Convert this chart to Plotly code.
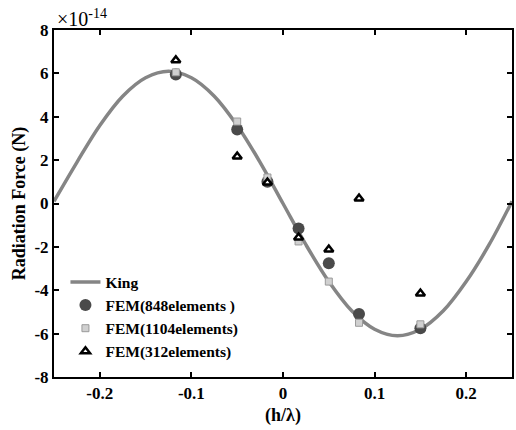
import plotly.graph_objects as go

# King theoretical curve (units of 1e-14 N)
king_x = [-0.25, -0.225, -0.2, -0.175, -0.15, -0.125, -0.1, -0.075, -0.05, -0.025,
          0.0, 0.025, 0.05, 0.075, 0.1, 0.125, 0.15, 0.175, 0.2, 0.225, 0.25]
king_y = [0.1, 1.9, 3.6, 4.95, 5.8, 6.1, 5.8, 4.95, 3.6, 1.9,
          0.0, -1.9, -3.6, -4.95, -5.8, -6.1, -5.8, -4.95, -3.6, -1.9, 0.1]

fem_x = [-0.117, -0.05, -0.017, 0.017, 0.05, 0.083, 0.15]
fem848_y = [5.95, 3.41, 1.0, -1.15, -2.75, -5.1, -5.75]
fem1104_y = [6.05, 3.78, 1.2, -1.75, -3.6, -5.5, -5.57]
fem312_y = [6.6, 2.17, 0.97, -1.57, -2.12, 0.23, -4.15]

x_ticks = [-0.2, -0.1, 0, 0.1, 0.2]
x_ticklabels = ["-0.2", "-0.1", "0", "0.1", "0.2"]
y_ticks = [-8, -6, -4, -2, 0, 2, 4, 6, 8]
y_ticklabels = ["-8", "-6", "-4", "-2", "0", "2", "4", "6", "8"]

font_fam = "Liberation Serif"

fig = go.Figure()
fig.add_trace(go.Scatter(x=king_x, y=king_y, mode="lines", name="<b>King</b>",
                         line=dict(color="#858585", width=3.5, shape="spline", smoothing=1.0)))
fig.add_trace(go.Scatter(x=fem_x, y=fem848_y, mode="markers", name="<b>FEM(848elements )</b>",
                         marker=dict(symbol="circle", size=12, color="#4a4a4a",
                                     line=dict(width=0))))
fig.add_trace(go.Scatter(x=fem_x, y=fem1104_y, mode="markers", name="<b>FEM(1104elements)</b>",
                         marker=dict(symbol="square", size=7, color="#d0d0d0",
                                     line=dict(width=1, color="#9a9a9a"))))
fig.add_trace(go.Scatter(x=fem_x, y=fem312_y, mode="markers", name="<b>FEM(312elements)</b>",
                         marker=dict(symbol="triangle-up", size=8, color="white",
                                     line=dict(width=2.5, color="black"))))

axis_common = dict(showline=True, linecolor="black", linewidth=2, mirror="ticks",
                   ticks="inside", ticklen=5, tickwidth=1.5, tickcolor="black",
                   showgrid=False, zeroline=False,
                   tickfont=dict(family=font_fam, size=17, color="black"))

fig.update_xaxes(range=[-0.25, 0.25], tickvals=x_ticks,
                 ticktext=["<b>%s</b>" % t for t in x_ticklabels],
                 title=dict(text="<b>(h/λ)</b>", font=dict(family=font_fam, size=18, color="black"),
                            standoff=6),
                 **axis_common)
fig.update_yaxes(range=[-8, 8], tickvals=y_ticks,
                 ticktext=["<b>%s</b>" % t for t in y_ticklabels],
                 title=dict(text="<b>Radiation Force (N)</b>", font=dict(family=font_fam, size=18, color="black"),
                            standoff=4),
                 **axis_common)

fig.add_annotation(xref="paper", yref="paper", x=0.0, y=1.0, xanchor="left", yanchor="bottom",
                   text="×10<sup>-14</sup>", showarrow=False, xshift=1, yshift=-2,
                   font=dict(family=font_fam, size=20, color="black"))

fig.update_layout(
    width=516, height=430,
    margin=dict(l=54, r=2, t=30, b=53),
    plot_bgcolor="white", paper_bgcolor="white",
    showlegend=True,
    legend=dict(x=0.025, y=0.025, xanchor="left", yanchor="bottom",
                bgcolor="rgba(0,0,0,0)", borderwidth=0,
                font=dict(family=font_fam, size=15.5, color="black"),
                itemwidth=30, tracegroupgap=0),
    font=dict(family=font_fam, color="black"),
)

fig.write_html("out.html")
